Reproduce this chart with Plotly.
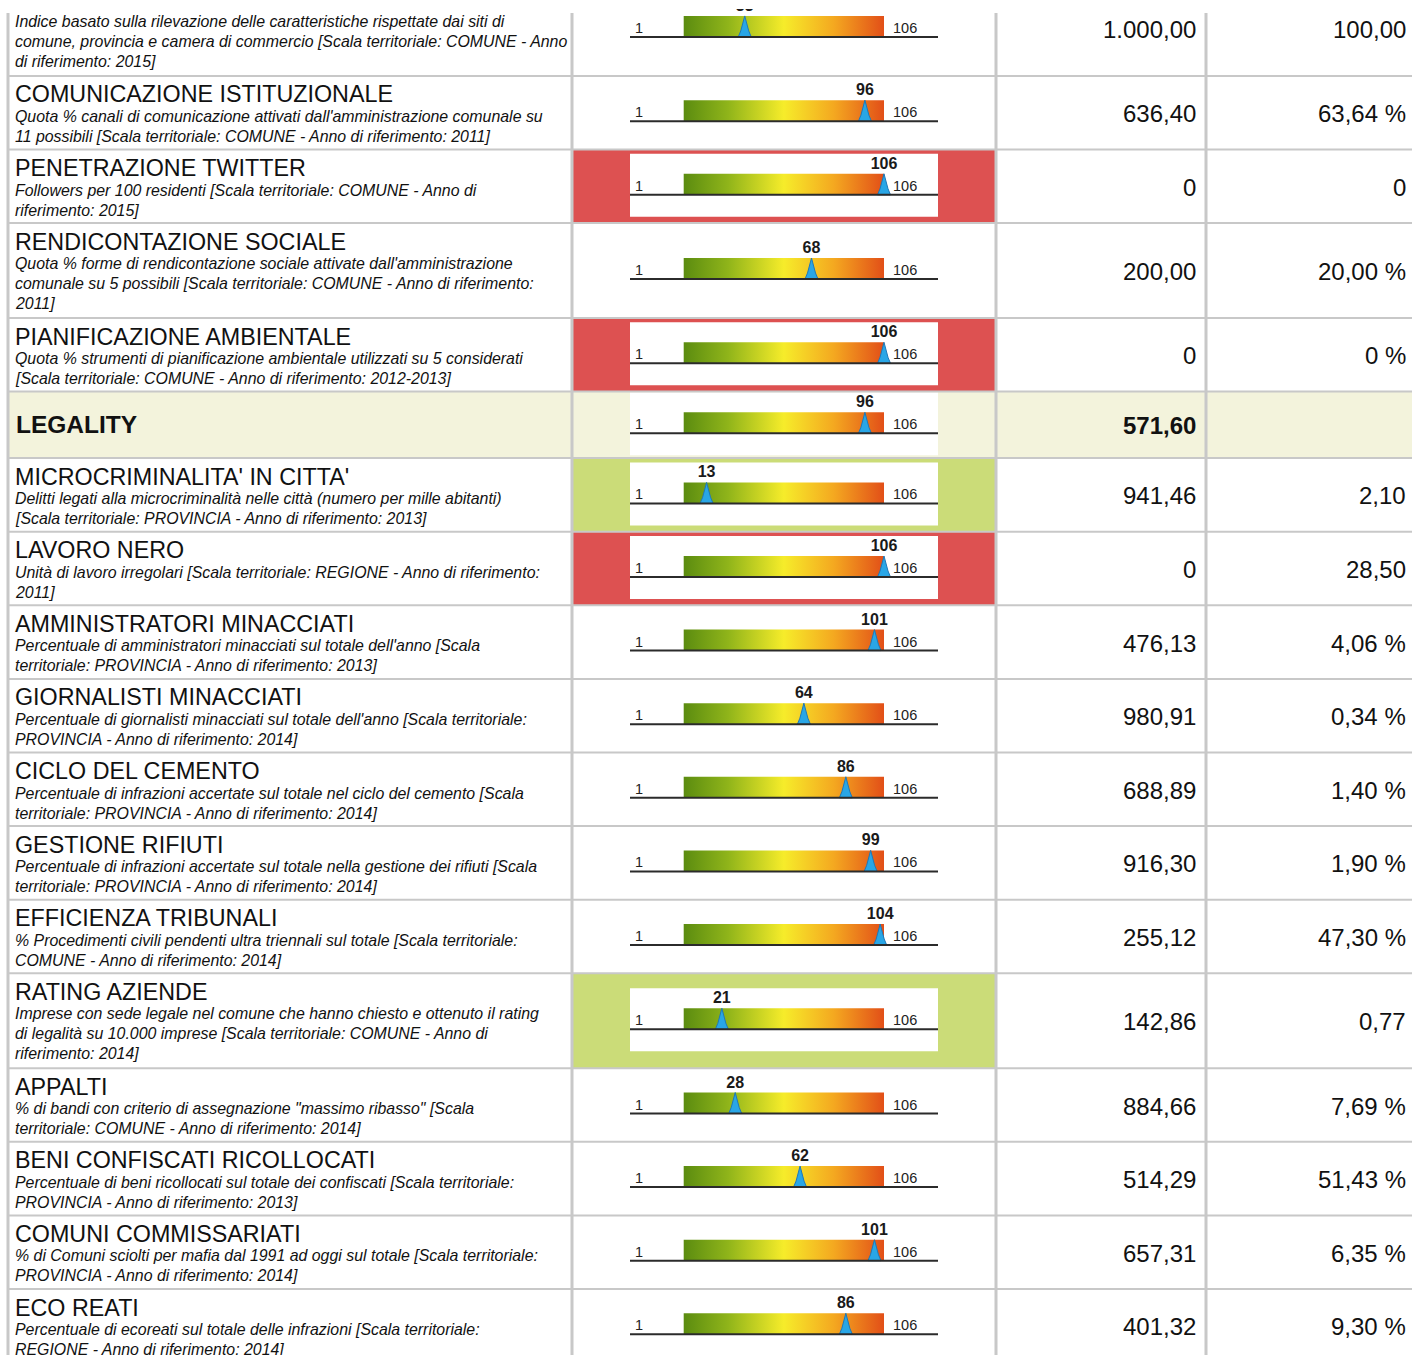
import plotly.graph_objects as go

# ---------------- data ----------------
titles = [
    "", "COMUNICAZIONE ISTITUZIONALE", "PENETRAZIONE TWITTER", "RENDICONTAZIONE SOCIALE",
    "PIANIFICAZIONE AMBIENTALE", "LEGALITY", "MICROCRIMINALITA' IN CITTA'", "LAVORO NERO",
    "AMMINISTRATORI MINACCIATI", "GIORNALISTI MINACCIATI", "CICLO DEL CEMENTO",
    "GESTIONE RIFIUTI", "EFFICIENZA TRIBUNALI", "RATING AZIENDE", "APPALTI",
    "BENI CONFISCATI RICOLLOCATI", "COMUNI COMMISSARIATI", "ECO REATI",
]
descriptions = [
    ["Indice basato sulla rilevazione delle caratteristiche rispettate dai siti di",
     "comune, provincia e camera di commercio [Scala territoriale: COMUNE - Anno",
     "di riferimento: 2015]"],
    ["Quota % canali di comunicazione attivati dall'amministrazione comunale su",
     "11 possibili [Scala territoriale: COMUNE - Anno di riferimento: 2011]"],
    ["Followers per 100 residenti [Scala territoriale: COMUNE - Anno di",
     "riferimento: 2015]"],
    ["Quota % forme di rendicontazione sociale attivate dall'amministrazione",
     "comunale su 5 possibili [Scala territoriale: COMUNE - Anno di riferimento:",
     "2011]"],
    ["Quota % strumenti di pianificazione ambientale utilizzati su 5 considerati",
     "[Scala territoriale: COMUNE - Anno di riferimento: 2012-2013]"],
    [],
    ["Delitti legati alla microcriminalità nelle città (numero per mille abitanti)",
     "[Scala territoriale: PROVINCIA - Anno di riferimento: 2013]"],
    ["Unità di lavoro irregolari [Scala territoriale: REGIONE - Anno di riferimento:",
     "2011]"],
    ["Percentuale di amministratori minacciati sul totale dell'anno [Scala",
     "territoriale: PROVINCIA - Anno di riferimento: 2013]"],
    ["Percentuale di giornalisti minacciati sul totale dell'anno [Scala territoriale:",
     "PROVINCIA - Anno di riferimento: 2014]"],
    ["Percentuale di infrazioni accertate sul totale nel ciclo del cemento [Scala",
     "territoriale: PROVINCIA - Anno di riferimento: 2014]"],
    ["Percentuale di infrazioni accertate sul totale nella gestione dei rifiuti [Scala",
     "territoriale: PROVINCIA - Anno di riferimento: 2014]"],
    ["% Procedimenti civili pendenti ultra triennali sul totale [Scala territoriale:",
     "COMUNE - Anno di riferimento: 2014]"],
    ["Imprese con sede legale nel comune che hanno chiesto e ottenuto il rating",
     "di legalità su 10.000 imprese [Scala territoriale: COMUNE - Anno di",
     "riferimento: 2014]"],
    ["% di bandi con criterio di assegnazione \"massimo ribasso\" [Scala",
     "territoriale: COMUNE - Anno di riferimento: 2014]"],
    ["Percentuale di beni ricollocati sul totale dei confiscati [Scala territoriale:",
     "PROVINCIA - Anno di riferimento: 2013]"],
    ["% di Comuni sciolti per mafia dal 1991 ad oggi sul totale [Scala territoriale:",
     "PROVINCIA - Anno di riferimento: 2014]"],
    ["Percentuale di ecoreati sul totale delle infrazioni [Scala territoriale:",
     "REGIONE - Anno di riferimento: 2014]"],
]
ranks = [33, 96, 106, 68, 106, 96, 13, 106, 101, 64, 86, 99, 104, 21, 28, 62, 101, 86]
scores = ["1.000,00", "636,40", "0", "200,00", "0", "571,60", "941,46", "0", "476,13",
          "980,91", "688,89", "916,30", "255,12", "142,86", "884,66", "514,29", "657,31", "401,32"]
indicator_values = ["100,00", "63,64 %", "0", "20,00 %", "0 %", "", "2,10", "28,50", "4,06 %",
                    "0,34 %", "1,40 %", "1,90 %", "47,30 %", "0,77", "7,69 %", "51,43 %",
                    "6,35 %", "9,30 %"]
status = ["none", "none", "bad", "none", "bad", "header", "good", "bad", "none", "none",
          "none", "none", "none", "good", "none", "none", "none", "none"]
scale_min, scale_max = 1, 106

# ---------------- style ----------------
W, H = 1412, 1355
FONT = "Liberation Sans, Arial, Helvetica, sans-serif"
GRID = "#c8c8c8"
STATUS_COL = {"bad": "#dd5151", "good": "#cbdc78", "header": "#f3f3dc"}
GRAD = [[0.0, "#5b8c10"], [0.22, "#8fb41a"], [0.5, "#f6ec2a"], [0.75, "#f4a820"], [1.0, "#e24f18"]]
COL_X = [8, 572, 996, 1206]
PANEL_L, PANEL_R = 630, 938
BAR_L, BAR_R = 683.7, 884.0
k = (BAR_R - BAR_L) / (scale_max - scale_min)       # px per scale unit
x2_range = [scale_min - BAR_L / k, scale_min + (W - BAR_L) / k]

# row geometry
tops = []
y = -19.0
for i, d in enumerate(descriptions):
    tops.append(y)
    y += 66.5 if status[i] == "header" else 31 + 21.3 * len(d)
tops.append(y)

shapes, annotations, traces = [], [], []

for i in range(len(titles)):
    t, b = tops[i], tops[i + 1]
    c = (t + b) / 2
    st = status[i]
    if st == "header":
        shapes.append(dict(type="rect", xref="x", yref="y", x0=COL_X[0], x1=W, y0=t, y1=b,
                           fillcolor=STATUS_COL[st], line_width=0, layer="below"))
    elif st in STATUS_COL:
        shapes.append(dict(type="rect", xref="x", yref="y", x0=COL_X[1], x1=COL_X[2], y0=t, y1=b,
                           fillcolor=STATUS_COL[st], line_width=0, layer="below"))
    ptop = c - 32.5
    shapes.append(dict(type="rect", xref="x", yref="y", x0=PANEL_L, x1=PANEL_R, y0=ptop, y1=ptop + 63,
                       fillcolor="white", line_width=0, layer="below"))
    bar_top, base = ptop + 20, ptop + 41
    # gradient bar
    traces.append(go.Scatter(
        x=[scale_min, scale_max, scale_max, scale_min, scale_min],
        y=[bar_top, bar_top, base, base, bar_top], xaxis="x2", yaxis="y",
        mode="lines", fill="toself", line=dict(width=0),
        fillgradient=dict(type="horizontal", colorscale=GRAD),
        hoverinfo="skip", showlegend=False))
    # marker
    v = ranks[i]
    dx = [-6.5, -4, 0, 4, 6.5, -6.5]
    dy = [0, -6, -21, -6, 0, 0]
    traces.append(go.Scatter(
        x=[v + d / k for d in dx], y=[base + e for e in dy], xaxis="x2", yaxis="y",
        mode="lines", fill="toself", fillcolor="#29a6e6", line=dict(color="#1f78b8", width=1),
        hoverinfo="skip", showlegend=False))
    traces.append(go.Scatter(
        x=[v], y=[bar_top - 9], xaxis="x2", yaxis="y", mode="text", text=[str(v)],
        textfont=dict(family=FONT, size=16, color="#1a1a1a", weight="bold"),
        textposition="middle center", hoverinfo="skip", showlegend=False, cliponaxis=False))
    # baseline
    shapes.append(dict(type="line", xref="x", yref="y", x0=PANEL_L, x1=PANEL_R, y0=base, y1=base,
                       line=dict(color="#2b2b2b", width=2), layer="above"))
    annotations.append(dict(x=PANEL_L + 3, y=base - 9, xref="x", yref="y", text=str(scale_min),
                            showarrow=False, xanchor="left", yanchor="middle",
                            font=dict(family=FONT, size=14.5, color="#222")))
    annotations.append(dict(x=BAR_R + 7, y=base - 9, xref="x", yref="y", text=str(scale_max),
                            showarrow=False, xanchor="left", yanchor="middle",
                            font=dict(family=FONT, size=14.5, color="#222")))
    # text
    if st == "header":
        annotations.append(dict(x=14, y=c, xref="x", yref="y", text="<b>%s</b>" % titles[i],
                                showarrow=False, xanchor="left", yanchor="middle",
                                font=dict(family=FONT, size=24.5, color="#111")))
        annotations.append(dict(x=1198, y=c + 1, xref="x", yref="y", text="<b>%s</b>" % scores[i],
                                showarrow=False, xanchor="right", yanchor="middle",
                                font=dict(family=FONT, size=24, color="#111")))
    else:
        if titles[i]:
            annotations.append(dict(x=13, y=t + 18.5, xref="x", yref="y", text=titles[i],
                                    showarrow=False, xanchor="left", yanchor="middle",
                                    font=dict(family=FONT, size=23.3, color="#111")))
        for j, line in enumerate(descriptions[i]):
            annotations.append(dict(x=13, y=t + 40.5 + 20 * j, xref="x", yref="y",
                                    text="<i>%s</i>" % line, showarrow=False,
                                    xanchor="left", yanchor="middle",
                                    font=dict(family=FONT, size=15.9, color="#111")))
        annotations.append(dict(x=1198, y=c + 1, xref="x", yref="y", text=scores[i],
                                showarrow=False, xanchor="right", yanchor="middle",
                                font=dict(family=FONT, size=24, color="#111")))
        annotations.append(dict(x=1408, y=c + 1, xref="x", yref="y", text=indicator_values[i],
                                showarrow=False, xanchor="right", yanchor="middle",
                                font=dict(family=FONT, size=24, color="#111")))

# grid lines
for yb in tops[1:-1]:
    shapes.append(dict(type="line", xref="x", yref="y", x0=COL_X[0], x1=W, y0=yb, y1=yb,
                       line=dict(color=GRID, width=2), layer="below"))
for xv in COL_X:
    shapes.append(dict(type="line", xref="x", yref="y", x0=xv, x1=xv, y0=13, y1=H,
                       line=dict(color=GRID, width=3), layer="below"))
# top crop edge
shapes.append(dict(type="rect", xref="x", yref="y", x0=0, x1=W, y0=-30, y1=9,
                   fillcolor="white", line_width=0, layer="above"))

fig = go.Figure(traces)
fig.update_layout(
    width=W, height=H, margin=dict(l=0, r=0, t=0, b=0),
    paper_bgcolor="white", plot_bgcolor="white", showlegend=False,
    xaxis=dict(range=[0, W], visible=False, fixedrange=True),
    xaxis2=dict(range=x2_range, overlaying="x", visible=False, fixedrange=True),
    yaxis=dict(range=[H, 0], visible=False, fixedrange=True),
    shapes=shapes, annotations=annotations,
)
fig.write_html("out.html", config={"displayModeBar": False},
               post_script="document.body.style.margin='0';document.body.style.overflow='hidden';")
